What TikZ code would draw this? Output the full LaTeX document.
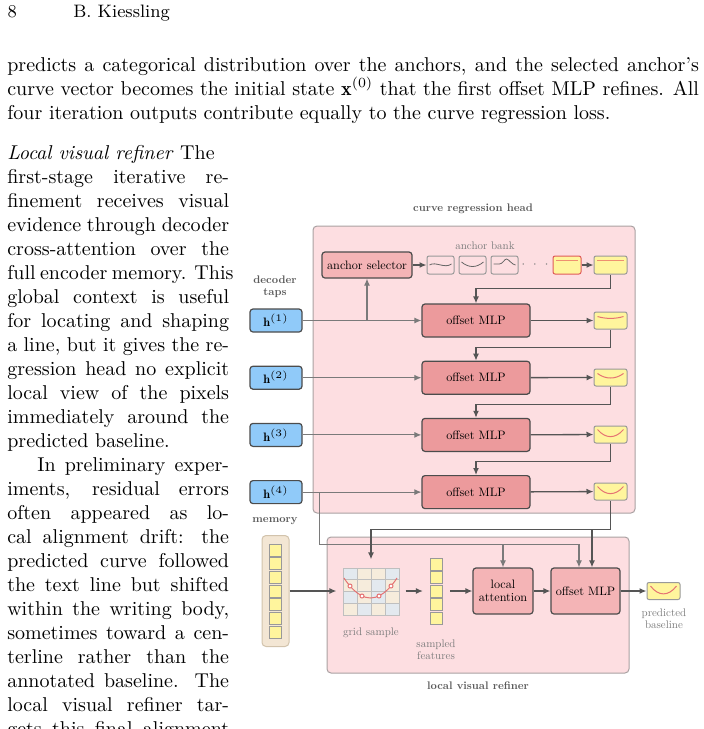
\documentclass[tikz,border=0pt]{standalone}
\usepackage{fontspec}
\usepackage{tikz}
\usetikzlibrary{shapes, arrows.meta, positioning, calc}
\usepackage{xcolor}

\newfontfamily\diagfont{lmroman10-regular.otf}[BoldFont=lmroman10-bold.otf]

\definecolor{stagefill}{HTML}{FDDEE1}
\definecolor{stageborder}{HTML}{A9A1A2}
\definecolor{opfill}{HTML}{F4B4B6}
\definecolor{mlpfill}{HTML}{EC9A9C}
\definecolor{tapfill}{HTML}{90CAF9}
\definecolor{curvefill}{HTML}{FFF59D}
\definecolor{curvered}{HTML}{E57373}
\definecolor{anchorline}{HTML}{EE9070}
\definecolor{pickborder}{HTML}{E05A5A}
\definecolor{memfill}{HTML}{F3E6D4}
\definecolor{memborder}{HTML}{D2C3AC}
\definecolor{cellblue}{HTML}{E3E9EF}
\definecolor{cellbeige}{HTML}{F6ECDC}
\definecolor{labeldark}{HTML}{5A5A5A}
\definecolor{labelgray}{HTML}{7C7C7C}
\definecolor{flowdark}{HTML}{555555}
\definecolor{flowlight}{HTML}{7A7A7A}

\newcommand{\jline}[2]{\makebox[#1][s]{#2}}
\newcommand{\bodyfont}{\fontsize{10}{12}\selectfont}
\newcommand{\boxfont}{\diagfont\fontsize{6.1}{6.8}\selectfont}
\newcommand{\tagfont}{\diagfont\fontsize{5.5}{6}\selectfont}

\begin{document}
\begin{tikzpicture}[x=0.5pt, y=-0.5pt, >={Latex[length=3.5pt,width=3pt]}, line width=0.6pt]

\tikzstyle{body_line} = [anchor=base west, inner sep=0pt, font=\bodyfont]
\tikzstyle{stage_box} = [rectangle, rounded corners=2pt, draw=stageborder, fill=stagefill, line width=0.5pt, inner sep=0pt]
\tikzstyle{group_label} = [font=\tagfont\bfseries, text=labeldark, align=center, inner sep=0pt]
\tikzstyle{note} = [font=\tagfont, text=labelgray, align=center, inner sep=0pt]
\tikzstyle{tap} = [rectangle, rounded corners=1.5pt, minimum width=26pt, minimum height=11.5pt, draw=black!70, fill=tapfill, font=\boxfont, inner sep=0pt]
\tikzstyle{mlp} = [rectangle, rounded corners=1.5pt, minimum width=54pt, minimum height=16.5pt, draw=black!70, fill=mlpfill, font=\boxfont, inner sep=0pt]
\tikzstyle{local_op} = [rectangle, rounded corners=1.5pt, draw=black!70, fill=opfill, font=\boxfont, align=center, inner sep=0pt]
\tikzstyle{curve_box} = [rectangle, rounded corners=1pt, minimum width=16.5pt, minimum height=8.5pt, draw=black!40, fill=curvefill, inner sep=0pt, line width=0.5pt]
\tikzstyle{anchor_icon} = [rectangle, rounded corners=1pt, minimum width=13.5pt, minimum height=9pt, draw=black!40, inner sep=0pt, line width=0.5pt]
\tikzstyle{feat_cell} = [rectangle, minimum size=6pt, draw=black!40, fill=curvefill, inner sep=0pt, line width=0.4pt]
\tikzstyle{flow} = [->, draw=flowdark, line width=0.65pt]
\tikzstyle{tap_flow} = [->, draw=flowlight, line width=0.55pt]
\tikzstyle{curve_line} = [draw=curvered, line width=0.5pt]
\tikzstyle{icon_line} = [draw=black!60, line width=0.4pt]

\useasboundingbox (0,0) rectangle (704,729);
\clip (0,0) rectangle (704,729);

% running head and body text
\node[body_line, font=\fontsize{9}{11}\selectfont] (pageno) at (7,17) {8};
\node[body_line, font=\fontsize{9}{11}\selectfont] (runhead) at (72.7,17) {B. Kiessling};
\node[body_line] (top1) at (6.7,71) {\jline{345.83pt}{predicts a categorical distribution over the anchors, and the selected anchor's}};
\node[body_line] (top2) at (6.7,95) {\jline{345.83pt}{curve vector becomes the initial state $\mathbf{x}^{(0)}$ that the first offset MLP refines. All}};
\node[body_line] (top3) at (6.7,119) {four iteration outputs contribute equally to the curve regression loss.};

\node[body_line] (col0) at (6.7,159) {\textit{Local visual refiner} The};
\foreach \txt [count=\i from 1] in {first-stage iterative re-, finement receives visual, evidence through decoder, cross-attention over the, full encoder memory. This, global context is useful, for locating and shaping, {a line, but it gives the re-}, gression head no explicit, local view of the pixels, immediately around the}
  \node[body_line] (col\i) at (6.7,159+24*\i) {\jline{110.9pt}{\txt}};
\node[body_line] (col12) at (6.7,447) {predicted baseline.};
\node[body_line] (col13) at (36.7,471) {\jline{95.9pt}{In preliminary exper-}};
\foreach \txt [count=\i from 14] in {{iments, residual errors}, often appeared as lo-, cal alignment drift: the, predicted curve followed, the text line but shifted, {within the writing body,}, sometimes toward a cen-, terline rather than the, annotated baseline. The, local visual refiner tar-, gets this final alignment}
  \node[body_line] (col\i) at (6.7,159+24*\i) {\jline{110.9pt}{\txt}};

% curve regression head
\node[stage_box, minimum width=161pt, minimum height=143.5pt] (crh) at (474,369.5) {};
\node[group_label] (crh_label) at (473,209) {curve regression head};
\node[note] (bank_label) at (485,246) {anchor bank};
\node[group_label] (taps_label) at (275,287) {decoder\\taps};

% local visual refiner
\node[stage_box, minimum width=151pt, minimum height=68pt] (lvr) at (478,605) {};
\node[group_label] (lvr_label) at (478,686) {local visual refiner};
\node[group_label] (mem_label) at (275,521) {memory};

\node[local_op, minimum width=45pt, minimum height=13pt] (sel) at (367,265) {anchor selector};
\node[anchor_icon] (a1) at (440.5,265) {};
\node[anchor_icon, right=2pt of a1] (a2) {};
\node[anchor_icon, right=2pt of a2] (a3) {};
\node[text=labelgray, font=\boxfont, inner sep=0pt] (dots) at (535,265) {$\cdot$\hspace{3.5pt}$\cdot$\hspace{3.5pt}$\cdot$};
\node[curve_box, draw=pickborder, minimum width=14pt, minimum height=9pt] (pick) at (567,265) {};
\node[curve_box, minimum height=9pt] (init) at (610.5,265) {};

\draw[icon_line, shift={(a1)}] (-11,0) .. controls (-5,-4) and (4,4) .. (11,-1);
\draw[icon_line, shift={(a2)}] (-11,-3) .. controls (-4,3) and (4,3) .. (11,-3);
\draw[icon_line, shift={(a3)}] (-11,-1) -- (-5,-1) .. controls (-2,-1) and (0,-6) .. (2,-6) .. controls (4,-6) and (8,0) .. (11,0);
\draw[anchorline, line width=0.75pt, shift={(pick)}] (-11,-4.3) -- (11,-4.3);
\draw[anchorline, line width=0.75pt, shift={(init)}] (-13.5,-4.3) -- (13.5,-4.3);

\node[tap] (h1) at (276,320.5) {$\mathbf{h}^{(1)}$};
\node[tap, below=16.5pt of h1] (h2) {$\mathbf{h}^{(2)}$};
\node[tap, below=16.5pt of h2] (h3) {$\mathbf{h}^{(3)}$};
\node[tap, below=16.5pt of h3] (h4) {$\mathbf{h}^{(4)}$};

\node[mlp] (mlp1) at (476,320.5) {offset MLP};
\node[mlp, below=11.5pt of mlp1] (mlp2) {offset MLP};
\node[mlp, below=11.5pt of mlp2] (mlp3) {offset MLP};
\node[mlp, below=11.5pt of mlp3] (mlp4) {offset MLP};

\node[curve_box] (out1) at (610.5,320.5) {};
\node[curve_box, below=19.5pt of out1] (out2) {};
\node[curve_box, below=19.5pt of out2] (out3) {};
\node[curve_box, below=19.5pt of out3] (out4) {};

% memory column
\node[rectangle, rounded corners=2pt, draw=memborder, fill=memfill, minimum width=13.5pt, minimum height=55.5pt, inner sep=0pt, line width=0.5pt] (mem) at (275.5,591) {};
\foreach \k in {0,...,6}
  \node[feat_cell] (mem\k) at (275.5,549.9+13.7*\k) {};

% grid sample
\node[minimum width=34pt, minimum height=31pt, inner sep=0pt] (grid) at (371,591) {};
\foreach \shade [count=\n from 0] in {cellblue,cellbeige,cellbeige,cellblue, cellbeige,cellbeige,cellblue,cellbeige, cellblue,cellbeige,cellblue,cellbeige, cellbeige,cellblue,cellbeige,cellblue}{
  \pgfmathtruncatemacro{\gc}{mod(\n,4)}
  \pgfmathtruncatemacro{\gr}{div(\n,4)}
  \filldraw[fill=\shade, draw=black!25, line width=0.4pt] (343+14*\gc,568+11.75*\gr) rectangle ++(14,11.75);
}
\draw[curve_line] (344,578) parabola bend (370.5,598) (397,578);
\foreach \cx/\cy in {350/586, 362/596, 379/596, 391/586}
  \filldraw[curve_line, fill=white] (\cx,\cy) circle[radius=1pt];
\node[note] (grid_label) at (371,633) {grid sample};

% sampled features
\node[minimum width=13pt, minimum height=40pt, inner sep=0pt] (feat) at (436.5,591) {};
\foreach \k in {0,...,4}
  \node[feat_cell] (feat\k) at (436.5,564+13.5*\k) {};
\node[note] (feat_label) at (436,650) {sampled\\features};

\node[local_op, minimum width=30pt, minimum height=23pt] (latt) at (503,591) {local\\attention};
\node[local_op, minimum width=34.5pt, minimum height=23pt] (lmlp) at (585.5,591) {offset MLP};
\node[curve_box] (pred) at (663.5,591) {};
\node[note] (pred_label) at (664,619) {predicted\\baseline};

\foreach \o/\e/\c in {out1/-4/-1.5, out2/-4/2, out3/-5/4.5, out4/-5/4.5, pred/-5/5.5}
  \draw[curve_line, shift={(\o)}] (-13,\e) .. controls (-5,\c) and (5,\c) .. (13,\e);

% connectors
\draw[flow] (sel) -- (a1);
\draw[flow] (pick) -- (init);
\draw[flow] (init.south) -- ++(0,14) -| (mlp1.north);
\draw[tap_flow] (h1) -- (mlp1);
\draw[tap_flow] (h1.east -| sel.south) -- (sel.south);
\draw[tap_flow] (h2) -- (mlp2);
\draw[tap_flow] (h3) -- (mlp3);
\draw[tap_flow] (h4) -- (mlp4);
\draw[flow] (mlp1) -- (out1);
\draw[flow] (mlp2) -- (out2);
\draw[flow] (mlp3) -- (out3);
\draw[flow] (mlp4) -- (out4);
\draw[flow] (out1.south) -- ++(0,18) -| (mlp2.north);
\draw[flow] (out2.south) -- ++(0,18) -| (mlp3.north);
\draw[flow] (out3.south) -- ++(0,18) -| (mlp4.north);

\draw[tap_flow] ([xshift=8.5pt]h4.east) |- ([xshift=-3.25pt,yshift=11.5pt]lmlp.north) coordinate (qbus) -- ([xshift=-3.25pt]lmlp.north);
\draw[tap_flow] (latt.north |- qbus) -- (latt.north);
\draw[flow] (out4.south) -- ++(0,29) coordinate (cbus) -| (grid.north);
\draw[flow] ([xshift=3.25pt]lmlp.north |- cbus) -- ([xshift=3.25pt]lmlp.north);

\draw[flow] (mem) -- (grid);
\draw[flow] (grid) -- (feat);
\draw[flow] (feat) -- (latt);
\draw[flow] (latt) -- (lmlp);
\draw[flow] (lmlp) -- (pred);

\end{tikzpicture}
\end{document}
